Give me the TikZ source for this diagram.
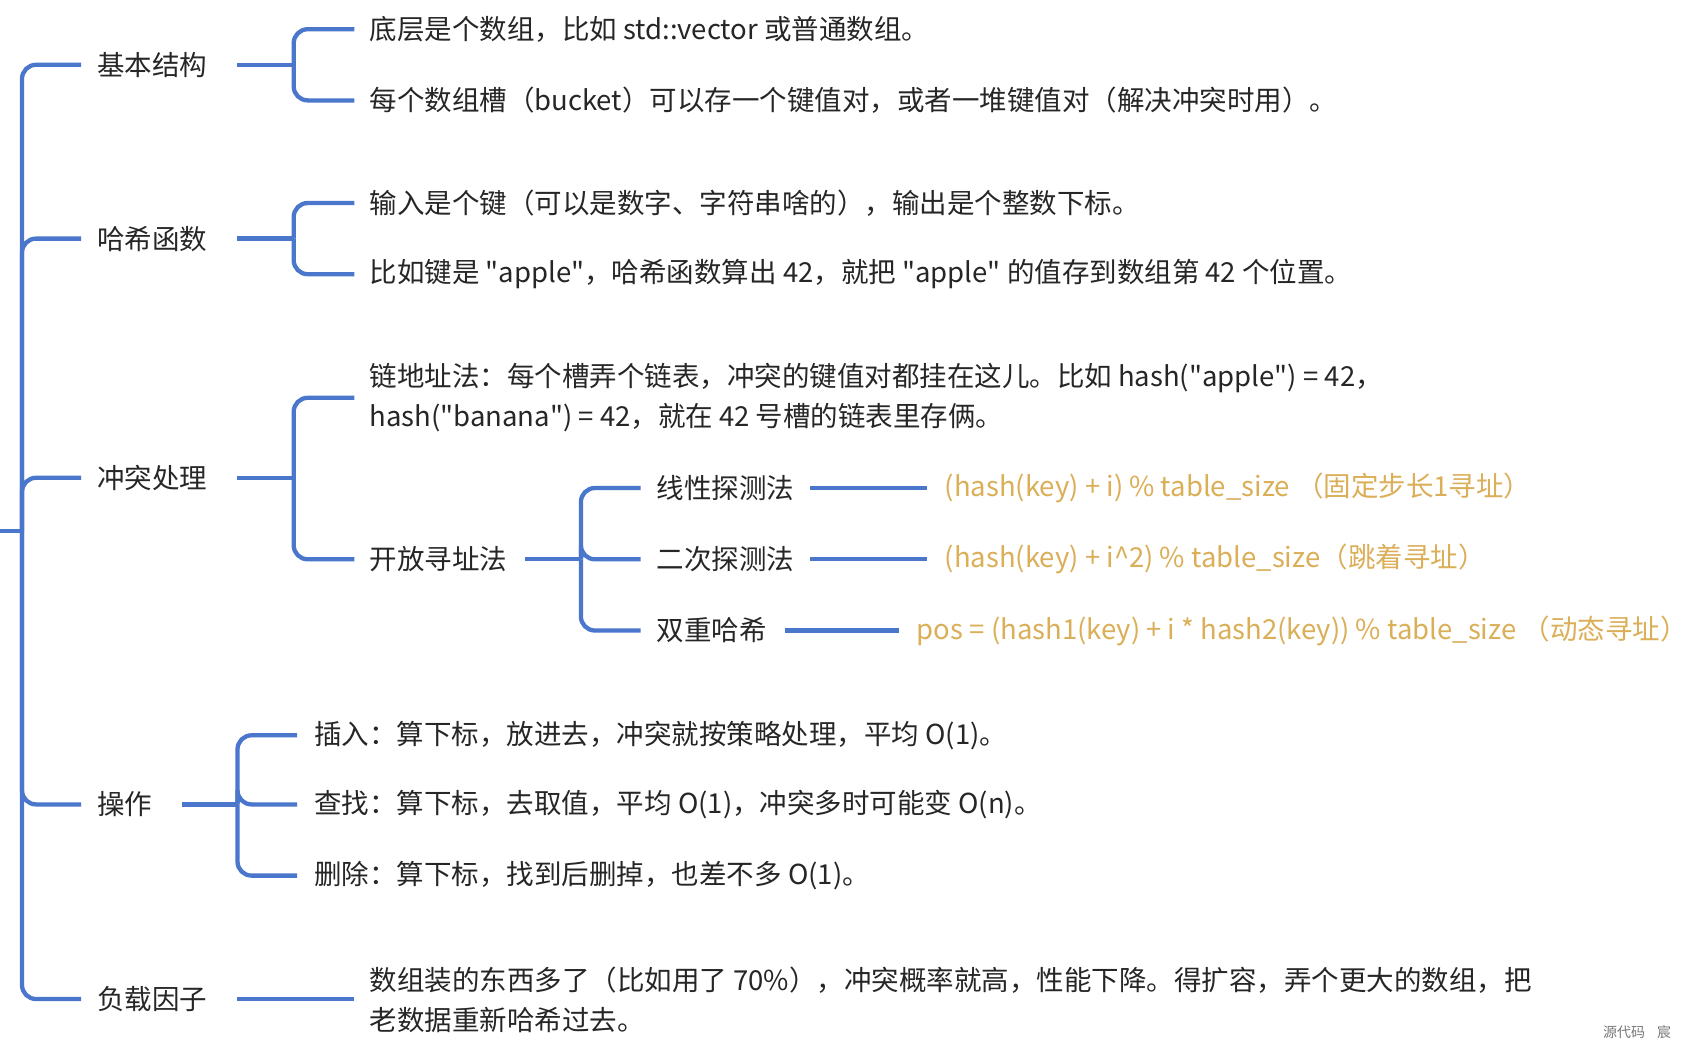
\documentclass[tikz,border=0pt]{standalone}
\usepackage{fontspec}
\newfontfamily\cjkfont{Noto Sans CJK SC}
\definecolor{lineblue}{RGB}{74,118,204}
\definecolor{txt}{RGB}{38,38,38}
\definecolor{gold}{RGB}{219,174,88}
\definecolor{wm}{RGB}{120,120,120}
\begin{document}
\begin{tikzpicture}[x=1pt,y=-1pt,
  conn/.style={draw=lineblue,line width=4.3pt,rounded corners=14pt},
  lbl/.style={anchor=west,inner sep=0pt,text=txt,font=\cjkfont\fontsize{27.5pt}{40pt}\selectfont,align=left},
  formula/.style={anchor=west,inner sep=0pt,text=gold,font=\cjkfont\fontsize{27.5pt}{40pt}\selectfont}]
\useasboundingbox[fill=white] (0,0) rectangle (1693,1052);

\coordinate (hub) at (22,531);
\coordinate (edge) at (0,531);

% level 1
\node[lbl] (jbjg) at (97,64.8) {基本结构};
\node[lbl] (hxhs) at (97,238.6) {哈希函数};
\node[lbl] (ctcl) at (97,477.8) {冲突处理};
\node[lbl] (cz)   at (97,804.4) {操作};
\node[lbl] (fzyz) at (97,999) {负载因子};

% level 2
\node[lbl] (a1) at (369.3,29.2) {底层是个数组，比如 std::vector 或普通数组。};
\node[lbl] (a2) at (369.3,100.4) {每个数组槽（bucket）可以存一个键值对，或者一堆键值对（解决冲突时用）。};
\node[lbl] (b1) at (369.3,203) {输入是个键（可以是数字、字符串啥的），输出是个整数下标。};
\node[lbl] (b2) at (369.3,274.2) {比如键是 "apple"，哈希函数算出 42，就把 "apple" 的值存到数组第 42 个位置。};
\node[lbl] (c1) at (369.3,397.8) {链地址法：每个槽弄个链表，冲突的键值对都挂在这儿。比如 hash("apple") = 42，\\hash("banana") = 42，就在 42 号槽的链表里存俩。};
\node[lbl] (c2) at (369.3,559.3) {开放寻址法};
\node[lbl] (d1) at (314.2,735.3) {插入：算下标，放进去，冲突就按策略处理，平均 O(1)。};
\node[lbl] (d2) at (314.2,804.4) {查找：算下标，去取值，平均 O(1)，冲突多时可能变 O(n)。};
\node[lbl] (d3) at (314.2,875.6) {删除：算下标，找到后删掉，也差不多 O(1)。};
\node[lbl] (e1) at (369.3,999.8) {数组装的东西多了（比如用了 70\%），冲突概率就高，性能下降。得扩容，弄个更大的数组，把\\老数据重新哈希过去。};

% level 3
\node[lbl] (k1) at (656.5,488) {线性探测法};
\node[lbl] (k2) at (656.5,559.3) {二次探测法};
\node[lbl] (k3) at (656.5,630.5) {双重哈希};
\node[formula] (f1) at (944.7,488) {(hash(key) + i) \% table\_size （固定步长1寻址）};
\node[formula] (f2) at (944.7,559.3) {(hash(key) + i\textasciicircum 2) \% table\_size（跳着寻址）};
\node[formula] (f3) at (916.7,630.5) {pos = (hash1(key) + i * hash2(key)) \% table\_size （动态寻址）};

% watermark
\node[anchor=west,inner sep=0pt,text=wm,font=\cjkfont\fontsize{14pt}{16pt}\selectfont] (wmk) at (1603,1032) {源代码\hspace{12pt}宸};

% root connectors
\draw[conn] (edge) -- (hub);
\foreach \n in {jbjg,hxhs,ctcl,cz,fzyz}
  \draw[conn] (hub) |- ([xshift=-16pt]\n.west);

% bracket: 基本结构
\draw[conn] ([xshift=30pt]jbjg.east) -- (293.7,64.8) coordinate (bj1);
\foreach \n in {a1,a2} \draw[conn] (bj1) |- ([xshift=-15pt]\n.west);
% bracket: 哈希函数
\draw[conn] ([xshift=30pt]hxhs.east) -- (293.7,238.6) coordinate (bj2);
\foreach \n in {b1,b2} \draw[conn] (bj2) |- ([xshift=-15pt]\n.west);
% bracket: 冲突处理
\draw[conn] ([xshift=30pt]ctcl.east) -- (293.7,477.8) coordinate (bj3);
\foreach \n in {c1,c2} \draw[conn] (bj3) |- ([xshift=-15pt]\n.west);
% bracket: 开放寻址法
\draw[conn] ([xshift=18pt]c2.east) -- (580.9,559.3) coordinate (bj4);
\foreach \n in {k1,k2,k3} \draw[conn] (bj4) |- ([xshift=-16pt]\n.west);
% bracket: 操作
\draw[conn] ([xshift=30pt]cz.east) -- (237.5,804.4) coordinate (bj5);
\foreach \n in {d1,d2,d3} \draw[conn] (bj5) |- ([xshift=-17pt]\n.west);
% 负载因子
\draw[conn] ([xshift=30pt]fzyz.east) -- ([xshift=-15pt]e1.west |- fzyz.west);

% level 3 to formulas
\draw[conn] ([xshift=16pt]k1.east) -- ([xshift=-18pt]f1.west);
\draw[conn] ([xshift=16pt]k2.east) -- ([xshift=-18pt]f2.west);
\draw[conn] ([xshift=18pt]k3.east) -- ([xshift=-18pt]f3.west);
\end{tikzpicture}
\end{document}
